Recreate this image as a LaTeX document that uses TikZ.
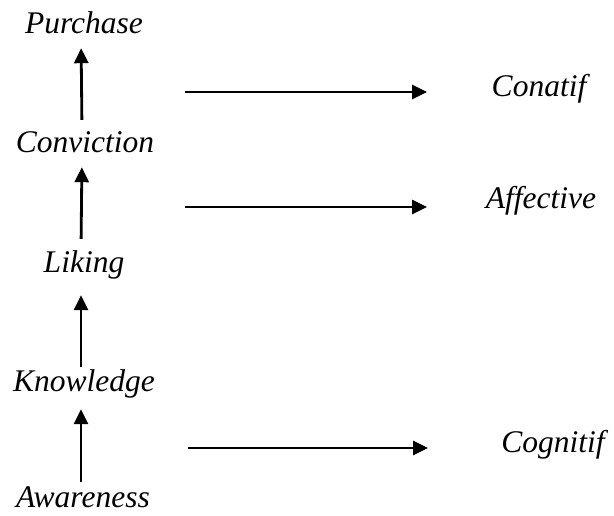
\documentclass[tikz,border=0pt]{standalone}
\usepackage{fontspec}
\setmainfont{Liberation Serif}
\newfontfamily\tnri{Liberation Serif Italic}
\usetikzlibrary{arrows.meta}
\begin{document}
\begin{tikzpicture}[x=1pt,y=1pt,
  lbl/.style={anchor=base,inner sep=0pt,text height=22pt,text depth=3pt,
    font=\tnri\fontsize{31.5}{36}\selectfont},
  arr/.style={line width=2.8pt,-{Triangle[length=15pt,width=14pt]}}]
\useasboundingbox (0,0) rectangle (614,-515);
% left column
\node[lbl] (purchase)   at (84,-33)  {Purchase};
\node[lbl] (conviction) at (85,-152) {Conviction};
\node[lbl] (liking)     at (84,-272) {Liking};
\node[lbl] (knowledge)  at (84,-391) {Knowledge};
\node[lbl] (awareness)  at (83,-507) {Awareness};
% right column
\node[lbl] (conatif)   at (539,-96)  {Conatif};
\node[lbl] (affective) at (541,-208) {Affective};
\node[lbl] (cognitif)  at (553,-452) {Cognitif};
% vertical arrows
\draw[arr,shorten <=10pt,shorten >=12pt] ([xshift=-3pt]conviction.north) -- ([xshift=-3pt]purchase.south);
\draw[arr,shorten <=11pt,shorten >=12pt] ([xshift=-3pt]liking.north) -- ([xshift=-3pt]conviction.south);
\draw[arr,shorten <=2pt,shorten >=20pt] ([xshift=-3pt]knowledge.north) -- ([xshift=-3pt]liking.south);
\draw[arr,shorten <=3pt,shorten >=15pt] ([xshift=-2pt]awareness.north) -- ([xshift=-3pt]knowledge.south);
% horizontal arrows
\coordinate (h1s) at (185,-92);  \coordinate (h1e) at (427,-92);
\coordinate (h2s) at (185,-207); \coordinate (h2e) at (427,-207);
\coordinate (h3s) at (188,-448); \coordinate (h3e) at (428,-448);
\draw[arr] (h1s) -- (h1e);
\draw[arr] (h2s) -- (h2e);
\draw[arr] (h3s) -- (h3e);
\end{tikzpicture}
\end{document}
